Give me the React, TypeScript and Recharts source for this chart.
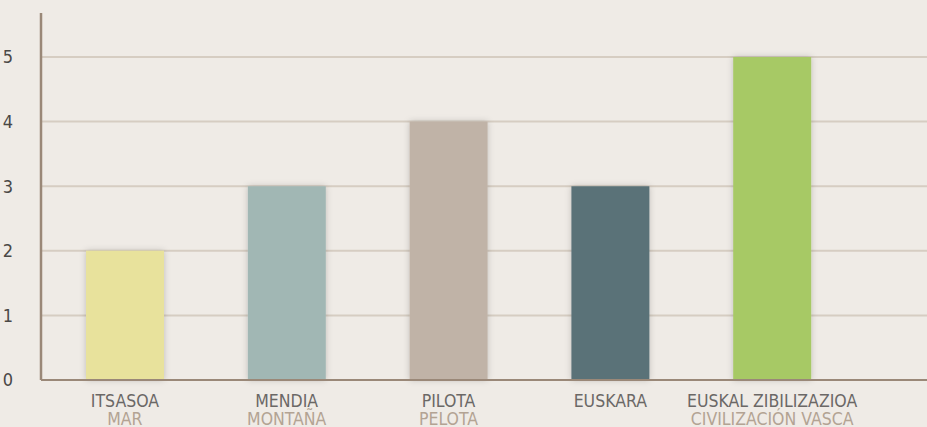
import { BarChart, Bar, XAxis, YAxis, CartesianGrid, Cell } from 'recharts'

const labels = ['ITSASOA', 'MENDIA', 'PILOTA', 'EUSKARA', 'EUSKAL ZIBILIZAZIOA']
const subLabels = ['MAR', 'MONTAÑA', 'PELOTA', '', 'CIVILIZACIÓN VASCA']
const values = [2, 3, 4, 3, 5]
const colors = ['#e8e29c', '#a1b7b4', '#c0b3a7', '#5a7278', '#a7c965']
const yTicks = [0, 1, 2, 3, 4, 5]
const gridValues = [1, 2, 3, 4, 5]

const data = labels.map((name, i) => ({ name, sub: subLabels[i], value: values[i] }))

const FONT = '"DejaVu Sans Condensed", "DejaVu Sans", sans-serif'

function CategoryTick({ x, y, payload, index }: any) {
  const sub = subLabels[index ?? labels.indexOf(payload.value)]
  return (
    <g transform={`translate(${x},${y})`}>
      <text x={0} y={19} textAnchor="middle" fill="#6b6866" fontSize={17.5} fontFamily={FONT}>
        {payload.value}
      </text>
      {sub ? (
        <text x={0} y={37} textAnchor="middle" fill="#b3a393" fontSize={17.5} fontFamily={FONT}>
          {sub}
        </text>
      ) : null}
    </g>
  )
}

export default function App() {
  return (
    <div style={{ position: 'absolute', left: 0, top: 0, width: 927, height: 427, background: '#efebe6' }}>
      <BarChart
        width={927}
        height={427}
        data={data}
        margin={{ top: 13, right: 0, bottom: 0, left: 0 }}
        barSize={78}
      >
        <defs>
          <filter id="barShadow" x="-20%" y="-20%" width="140%" height="140%">
            <feDropShadow dx="0" dy="0" stdDeviation="3" floodColor="#000" floodOpacity="0.2" />
          </filter>
        </defs>
        <CartesianGrid vertical={false} horizontalValues={gridValues} stroke="#d6cdc2" strokeWidth={2} />
        <XAxis
          dataKey="name"
          height={47}
          axisLine={{ stroke: '#9a8878', strokeWidth: 2 }}
          tickLine={false}
          interval={0}
          padding={{ left: 3, right: 74 }}
          tick={<CategoryTick />}
        />
        <YAxis
          width={41}
          domain={[0, 5.68]}
          ticks={yTicks}
          axisLine={{ stroke: '#9a8878', strokeWidth: 2.5 }}
          tickLine={false}
          tickMargin={22}
          tick={{ fill: '#4a4846', fontSize: 18, fontFamily: FONT }}
        />
        <Bar dataKey="value" isAnimationActive={false} filter="url(#barShadow)">
          {data.map((d, i) => (
            <Cell key={d.name} fill={colors[i]} />
          ))}
        </Bar>
      </BarChart>
    </div>
  )
}
